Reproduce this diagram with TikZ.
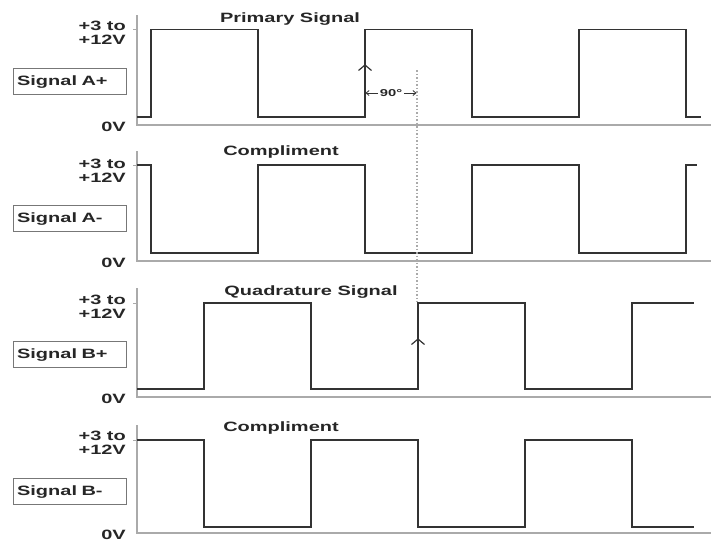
\documentclass[tikz,border=0pt]{standalone}
\usepackage{fontspec}
\newfontfamily\labfont{Liberation Sans}[FakeStretch=1.48]
\usetikzlibrary{arrows.meta}
\definecolor{sig}{HTML}{333333}
\definecolor{axc}{HTML}{AAAAAA}
\definecolor{boxc}{HTML}{777777}
\begin{document}
\begin{tikzpicture}[x=1pt,y=-1pt,
  wave/.style={draw=sig,line width=1.8pt,line join=miter},
  axisln/.style={draw=axc,line width=1.6pt},
  tickln/.style={draw=axc,line width=1pt},
  lbl/.style={font=\labfont\bfseries\fontsize{13.5}{14}\selectfont,text=black!85,inner sep=0pt},
  rlbl/.style={lbl,anchor=east},
  sigbox/.style={draw=boxc,line width=1.2pt,minimum width=113pt,minimum height=26pt,inner sep=0pt,text width=106pt,align=left,font=\labfont\bfseries\fontsize{13.5}{14}\selectfont,text=black!85},
  ttl/.style={lbl},
  chev/.style={draw=sig,line width=1.2pt},
  dimarrow/.style={draw=sig,line width=0.8pt,-{Straight Barb[length=3pt,width=5pt]}}
]
\useasboundingbox (0,0) rectangle (711,542);

% ---------- Panel 1: Signal A+ ----------
\draw[axisln] (137,15) -- (137,125) -- (711,125);
\draw[tickln] (133,29.5) -- (137,29.5);
\draw[wave] (137,117) -- (151,117) -- (151,29.5) -- (258,29.5) -- (258,117) -- (365,117) -- (365,29.5) -- (472,29.5) -- (472,117) -- (579,117) -- (579,29.5) -- (686,29.5) -- (686,117) -- (701,117);
\node[rlbl] (a1hi) at (126,26) {+3 to};
\node[rlbl] (a1hv) at (126,40) {+12V};
\node[rlbl] (a1lo) at (126,127) {0V};
\node[sigbox,anchor=north west] (boxAp) at (13,68) {Signal A+};
\node[ttl] (tPrim) at (290,19) {Primary Signal};

% ---------- Panel 2: Signal A- ----------
\draw[axisln] (137,151) -- (137,261) -- (711,261);
\draw[tickln] (133,165) -- (137,165);
\draw[wave] (137,165) -- (151,165) -- (151,253) -- (258,253) -- (258,165) -- (365,165) -- (365,253) -- (472,253) -- (472,165) -- (579,165) -- (579,253) -- (686,253) -- (686,165) -- (697,165);
\node[rlbl] (a2hi) at (126,164) {+3 to};
\node[rlbl] (a2hv) at (126,178) {+12V};
\node[rlbl] (a2lo) at (126,263) {0V};
\node[sigbox,anchor=north west] (boxAm) at (13,205) {Signal A-};
\node[ttl] (tComp1) at (281,152) {Compliment};

% ---------- Panel 3: Signal B+ ----------
\draw[axisln] (137,288) -- (137,397) -- (711,397);
\draw[tickln] (133,303) -- (137,303);
\draw[wave] (137,389) -- (204,389) -- (204,303) -- (311,303) -- (311,389) -- (418,389) -- (418,303) -- (525,303) -- (525,389) -- (632,389) -- (632,303) -- (694,303);
\node[rlbl] (b1hi) at (126,300) {+3 to};
\node[rlbl] (b1hv) at (126,314) {+12V};
\node[rlbl] (b1lo) at (126,399) {0V};
\node[sigbox,anchor=north west] (boxBp) at (13,341) {Signal B+};
\node[ttl] (tQuad) at (311,292) {Quadrature Signal};

% ---------- Panel 4: Signal B- ----------
\draw[axisln] (137,425) -- (137,533) -- (711,533);
\draw[tickln] (133,440) -- (137,440);
\draw[wave] (137,440) -- (204,440) -- (204,527) -- (311,527) -- (311,440) -- (418,440) -- (418,527) -- (525,527) -- (525,440) -- (632,440) -- (632,527) -- (694,527);
\node[rlbl] (b2hi) at (126,436) {+3 to};
\node[rlbl] (b2hv) at (126,450) {+12V};
\node[rlbl] (b2lo) at (126,534.5) {0V};
\node[sigbox,anchor=north west] (boxBm) at (13,478) {Signal B-};
\node[ttl] (tComp2) at (281,428) {Compliment};

% ---------- 90 degree phase marker ----------
\draw[axc,line width=1.3pt,dash pattern=on 1.5pt off 2pt] (417,70) -- (417,302);
\draw[chev] (358.5,70.5) -- (365,65) -- (371.5,70.5);
\draw[chev] (411.5,344.5) -- (418,339) -- (424.5,344.5);
\coordinate (edgeA) at (365.5,93);
\coordinate (edgeB) at (416.5,93);
\node[lbl,font=\labfont\bfseries\fontsize{10}{11}\selectfont] (n90) at (391,93) {90\textdegree};
\draw[dimarrow] (n90.west) ++(-1.5,0) -- (edgeA);
\draw[dimarrow] (n90.east) ++(1.5,0) -- (edgeB);
\end{tikzpicture}
\end{document}
